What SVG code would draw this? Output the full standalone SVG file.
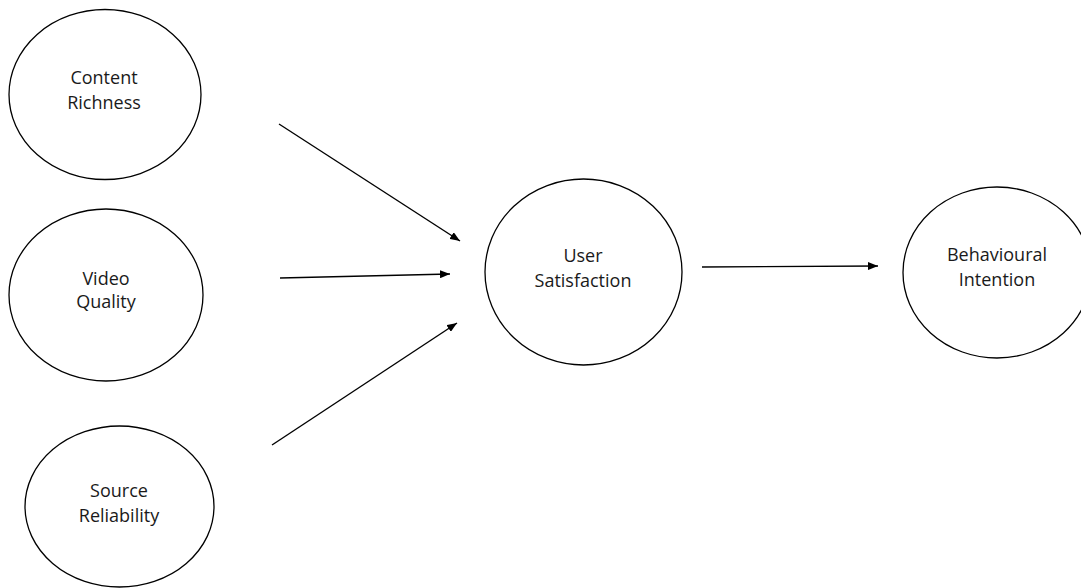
<svg xmlns="http://www.w3.org/2000/svg" width="1081" height="588" viewBox="0 0 1081 588">
<style>
.node{fill:#fff;stroke:#000;stroke-width:1.3}
.lbl{font-family:"Open Sans","Liberation Sans",sans-serif;font-size:18px;fill:#1a1a1a;text-anchor:middle}
.edge{stroke:#000;stroke-width:1.4;fill:none;marker-end:url(#ah)}
</style>
<defs>
<marker id="ah" viewBox="0 0 10 8" refX="10" refY="4" markerWidth="10" markerHeight="8" markerUnits="userSpaceOnUse" orient="auto">
<path d="M0,0 L10,4 L0,8 Z" fill="#000"/>
</marker>
</defs>
<rect width="1081" height="588" fill="#fff"/>
<g id="content-richness">
<ellipse class="node" cx="105" cy="94.5" rx="96" ry="85"/>
<text class="lbl" x="104" y="83.5">Content</text>
<text class="lbl" x="104" y="108.5">Richness</text>
</g>
<g id="video-quality">
<ellipse class="node" cx="106" cy="295" rx="97" ry="86"/>
<text class="lbl" x="106" y="285">Video</text>
<text class="lbl" x="106" y="308">Quality</text>
</g>
<g id="source-reliability">
<ellipse class="node" cx="119.5" cy="506.5" rx="94.5" ry="80.5"/>
<text class="lbl" x="119" y="496.5">Source</text>
<text class="lbl" x="119" y="521.5">Reliability</text>
</g>
<g id="user-satisfaction">
<ellipse class="node" cx="583.5" cy="272" rx="98.5" ry="93"/>
<text class="lbl" x="583" y="261.5">User</text>
<text class="lbl" x="583" y="286.5">Satisfaction</text>
</g>
<g id="behavioural-intention">
<ellipse class="node" cx="997" cy="272.5" rx="94" ry="85.5"/>
<text class="lbl" x="997" y="261">Behavioural</text>
<text class="lbl" x="997" y="286">Intention</text>
</g>
<g id="connectors">
<line class="edge" x1="279" y1="124" x2="460" y2="241"/>
<line class="edge" x1="280" y1="278" x2="450" y2="274"/>
<line class="edge" x1="272" y1="445" x2="457" y2="323"/>
<line class="edge" x1="702" y1="267" x2="878" y2="266"/>
</g>
</svg>
